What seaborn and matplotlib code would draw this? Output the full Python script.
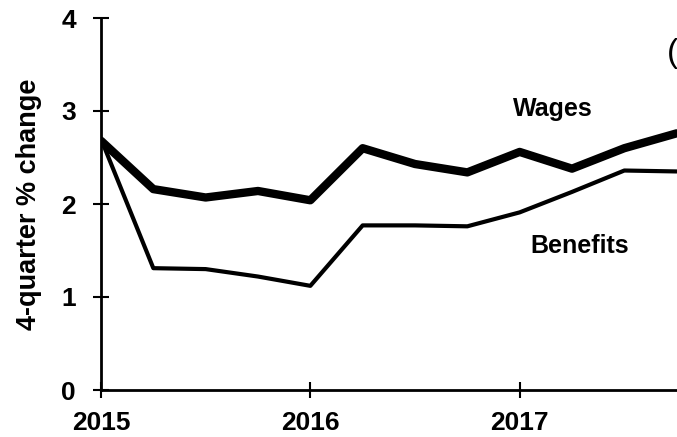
import pandas as pd
import matplotlib.pyplot as plt
import seaborn as sns

# quarterly 4-quarter % change
quarters = [2015.0, 2015.25, 2015.5, 2015.75, 2016.0, 2016.25,
            2016.5, 2016.75, 2017.0, 2017.25, 2017.5, 2017.75]
wages = [2.68, 2.16, 2.07, 2.14, 2.04, 2.60, 2.43, 2.34, 2.56, 2.38, 2.60, 2.76]
benefits = [2.70, 1.31, 1.30, 1.22, 1.12, 1.77, 1.77, 1.76, 1.91, 2.13, 2.36, 2.35]
year_ticks = [2015, 2016, 2017]
y_ticks = [0, 1, 2, 3, 4]

df = pd.DataFrame({'quarter': quarters, 'Wages': wages, 'Benefits': benefits})

sns.set_style('white')
plt.rcParams['font.family'] = ['Liberation Sans', 'DejaVu Sans']
plt.rcParams['font.weight'] = 'bold'
plt.rcParams['text.color'] = 'black'
plt.rcParams['axes.labelcolor'] = 'black'

fig = plt.figure(figsize=(6.77, 4.37), dpi=100)
ax = fig.add_axes([101 / 677, 47 / 437, 628 / 677, 372 / 437])

sns.lineplot(data=df, x='quarter', y='Wages', color='black', linewidth=6, ax=ax)
sns.lineplot(data=df, x='quarter', y='Benefits', color='black', linewidth=3, ax=ax)

ax.set_xlim(2015, 2018)
ax.set_ylim(0, 4)
ax.set_xticks(year_ticks)
ax.set_yticks(y_ticks)
ax.set_xticklabels([str(y) for y in year_ticks], fontsize=19, fontweight='bold')
ax.set_yticklabels([str(v) for v in y_ticks], fontsize=19, fontweight='bold')
ax.tick_params(bottom=True, left=True, direction='inout', length=12, width=1.5,
               colors='black')
ax.tick_params(axis='y', pad=12)
ax.tick_params(axis='x', pad=9)

for side in ['top', 'right']:
    ax.spines[side].set_visible(False)
for side in ['left', 'bottom']:
    ax.spines[side].set_linewidth(2)
    ax.spines[side].set_color('black')

ax.set_xlabel('')
ax.set_ylabel('4-quarter % change', fontsize=19.5, fontweight='bold', labelpad=14)

ax.text(2016.97, 2.95, 'Wages', fontsize=18, fontweight='bold')
ax.text(2017.05, 1.47, 'Benefits', fontsize=18, fontweight='bold')
ax.text(2017.705, 3.53, '(', fontsize=24, fontweight='normal')

fig.savefig('out.png', dpi=100)
